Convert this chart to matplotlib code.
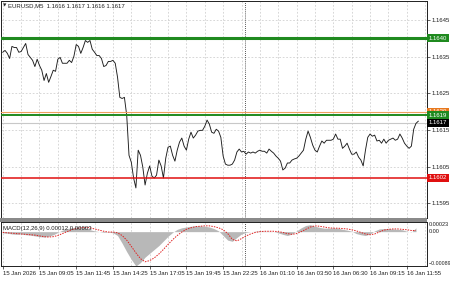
import matplotlib
matplotlib.use("Agg")
import matplotlib.pyplot as plt
import numpy as np
from matplotlib.transforms import blended_transform_factory
from matplotlib.patches import Rectangle

plt.rcParams['font.family'] = ['Liberation Sans', 'DejaVu Sans']

# ---------------- data ----------------
title_text = "EURUSD,M5  1.1616 1.1617 1.1616 1.1617"
macd_title = "MACD(12,26,9) 0.00012 0.00003"

# close price sampled every 2 M5 bars, starting 15 Jan 06:25
close = [
    1.16362, 1.16367, 1.16359, 1.16345, 1.16378, 1.16375, 1.16375, 1.16362, 1.16364, 1.16375,
    1.16386, 1.16356, 1.16348, 1.16340, 1.16323, 1.16343, 1.16326, 1.16313, 1.16285, 1.16304,
    1.16280, 1.16296, 1.16313, 1.16310, 1.16343, 1.16348, 1.16332, 1.16332, 1.16332, 1.16340,
    1.16334, 1.16351, 1.16383, 1.16378, 1.16359, 1.16375, 1.16394, 1.16389, 1.16394, 1.16370,
    1.16362, 1.16353, 1.16353, 1.16345, 1.16323, 1.16326, 1.16337, 1.16337, 1.16340, 1.16332,
    1.16294, 1.16239, 1.16236, 1.16239, 1.16190, 1.16081, 1.16062, 1.16019, 1.15992, 1.16095,
    1.16081, 1.16049, 1.16000, 1.16032, 1.16052, 1.16024, 1.16019, 1.16027, 1.16068, 1.16052,
    1.16019, 1.16073, 1.16103, 1.16106, 1.16081, 1.16065, 1.16095, 1.16117, 1.16128, 1.16106,
    1.16095, 1.16125, 1.16144, 1.16128, 1.16136, 1.16147, 1.16149, 1.16149, 1.16160, 1.16177,
    1.16166, 1.16144, 1.16141, 1.16152, 1.16147, 1.16130, 1.16079, 1.16057, 1.16054, 1.16054,
    1.16057, 1.16068, 1.16090, 1.16098, 1.16090, 1.16092, 1.16084, 1.16090, 1.16087, 1.16090,
    1.16087, 1.16092, 1.16095, 1.16092, 1.16092, 1.16087, 1.16098, 1.16092, 1.16087, 1.16079,
    1.16073, 1.16065, 1.16041, 1.16046, 1.16060, 1.16060, 1.16068, 1.16071, 1.16073, 1.16079,
    1.16087, 1.16095, 1.16125, 1.16147, 1.16130, 1.16109, 1.16095, 1.16090, 1.16106, 1.16120,
    1.16114, 1.16122, 1.16122, 1.16122, 1.16125, 1.16139, 1.16125, 1.16125, 1.16100, 1.16106,
    1.16114, 1.16098, 1.16084, 1.16084, 1.16090, 1.16076, 1.16068, 1.16052, 1.16095, 1.16130,
    1.16139, 1.16133, 1.16136, 1.16120, 1.16122, 1.16114, 1.16125, 1.16114, 1.16122, 1.16125,
    1.16128, 1.16122, 1.16125, 1.16139, 1.16128, 1.16114, 1.16106, 1.16100, 1.16106, 1.16152,
    1.16168, 1.16174,
]

# MACD main (histogram) and signal, every 4 M5 bars, in units of 1e-5
macd_main_e5 = [
    -3, -4, -6, -7, -6, -8, -9, -11, -13, -14,
    -12, -8, -2, 4, 8, 10, 12, 13, 10, 5,
    2, 0, -2, -1, -3, -10, -30, -52, -72, -89,
    -80, -66, -56, -46, -36, -24, -12, -2, 6, 10,
    12, 14, 15, 15, 14, 12, 8, 2, -10, -22,
    -25, -15, -6, -2, 0, 1, 2, 1, 1, 0,
    -3, -7, -10, -6, 2, 10, 16, 18, 14, 11,
    9, 9, 10, 9, 6, 4, 1, -5, -8, -10,
    -6, 2, 7, 8, 8, 7, 6, 5, 1, -1,
    10,
]
macd_signal_e5 = [
    -2, -3, -4, -5, -6, -7, -8, -9, -11, -13,
    -14, -13, -10, -5, 0, 5, 8, 10, 11, 10,
    7, 4, 1, -1, -1, -3, -10, -22, -38, -55,
    -70, -78, -75, -68, -58, -46, -33, -21, -10, -1,
    6, 10, 13, 14, 15, 15, 13, 10, 5, -5,
    -20, -24, -18, -11, -6, -2, 0, 1, 1, 1,
    0, -2, -5, -7, -5, 0, 6, 12, 15, 14,
    12, 10, 9, 9, 8, 7, 5, 2, -2, -6,
    -8, -6, -1, 4, 6, 7, 7, 6, 5, 3,
    3,
]

price_ticks = [1.1595, 1.1605, 1.1615, 1.1625, 1.1635, 1.1645]
level_prices = [1.1640, 1.1620, 1.1619, 1.1602]
level_labels = ["1.1640", "1.1620", "1.1619", "1.1602"]
bid_price = 1.1617
bid_label = "1.1617"

time_labels = ["15 Jan 2026", "15 Jan 09:05", "15 Jan 11:45", "15 Jan 14:25",
               "15 Jan 17:05", "15 Jan 19:45", "15 Jan 22:25", "16 Jan 01:10",
               "16 Jan 03:50", "16 Jan 06:30", "16 Jan 09:15", "16 Jan 11:55"]
label_every = 16      # in 2-bar steps (32 bars)
grid_every = 8        # 16 bars
day_separator = 105.65  # 16 Jan 00:00 in 2-bar steps

macd_top_label, macd_zero_label, macd_bottom_label = 0.00023, 0.0, -0.00089

# ---------------- styling ----------------
W, H = 450, 281
fig = plt.figure(figsize=(W / 100, H / 100), dpi=100)
fig.patch.set_facecolor('white')

ax_right = 427 / W
ax = fig.add_axes([0.0015, 1 - 218 / H, ax_right - 0.0015, 218 / H - 0.002])
ax2 = fig.add_axes([0.0015, 1 - 266 / H, ax_right - 0.0015, 44 / H])

x_close = np.arange(len(close))
x_macd = np.arange(len(macd_main_e5)) * 2
macd_main = np.array(macd_main_e5) * 1e-5
macd_signal = np.array(macd_signal_e5) * 1e-5

xlim = (-0.9, 184.8)
FS = 4.3
grid_kw = dict(color='#c8c8c8', lw=0.5, ls=(0, (2.5, 2.5)))

for a in (ax, ax2):
    a.set_xlim(*xlim)
    for s in a.spines.values():
        s.set_color('#202020')
        s.set_linewidth(0.7)
    for gx in np.arange(0, xlim[1], grid_every):
        a.axvline(gx, zorder=0, **grid_kw)
    a.axvline(day_separator, color='#202020', lw=0.6, ls=(0, (1.0, 1.5)), zorder=1)

# main panel
ax.set_ylim(1.15910, 1.16503)
for p in price_ticks:
    ax.axhline(p, zorder=0, **grid_kw)

ax.plot(x_close, close, color='#1c1c1c', lw=0.65, zorder=3)

level_colors = ['#1f8a1f', '#f0a060', '#1f8a1f', '#e01010']
level_widths = [2.2, 0.8, 1.4, 1.1]
box_colors = ['#1f8a1f', '#e8781e', '#1f8a1f', '#e01010']
for p, c, lw_ in zip(level_prices, level_colors, level_widths):
    ax.axhline(p, color=c, lw=lw_, zorder=4)
ax.axhline(bid_price, color='#c8c8c8', lw=0.8, zorder=2)

ax.yaxis.tick_right()
ax.set_yticks(price_ticks)
ax.set_yticklabels([f"{p:.4f}" for p in price_ticks], fontsize=FS, color='#202020')
ax.tick_params(axis='y', length=2, width=0.5, pad=1.2, colors='#202020')
ax.set_xticks([])

tr = blended_transform_factory(ax.transAxes, ax.transData)
for p, lab, bc in zip(level_prices + [bid_price], level_labels + [bid_label],
                      box_colors + ['#000000']):
    ax.text(1.004, p, lab, transform=tr, fontsize=FS, color='white', va='center', ha='left',
            zorder=10, clip_on=False,
            bbox=dict(boxstyle='square,pad=0.25', fc=bc, ec='none'))

ax.text(0.006, 0.978, "\u25BC", transform=ax.transAxes, fontsize=3.2, color='#202020',
        va='center', ha='left', family='DejaVu Sans')
ax.text(0.017, 0.978, title_text, transform=ax.transAxes, fontsize=FS, color='#202020',
        va='center', ha='left')

# MACD panel
ax2.set_ylim(-0.00089, 0.00025)
ax2.fill_between(x_macd, 0, macd_main, color='#b8b8b8', lw=0, zorder=2)
ax2.plot(x_macd, macd_signal, color='#e02020', lw=0.7, ls=(0, (1.5, 1.2)), zorder=3)
ax2.set_yticks([])
tr2 = blended_transform_factory(ax2.transAxes, ax2.transData)
ax2.text(1.005, macd_top_label - 0.00004, "0.00023", transform=tr2, fontsize=4.0,
         color='#202020', va='center', ha='left', clip_on=False)
ax2.text(1.005, macd_zero_label, "0.00", transform=tr2, fontsize=4.0,
         color='#202020', va='center', ha='left', clip_on=False)
ax2.text(1.003, macd_bottom_label + 0.00006, "\u2212" + "0.00089", transform=tr2,
         fontsize=3.8, color='#202020', va='center', ha='left', clip_on=False)
ax2.text(0.006, 0.86, macd_title, transform=ax2.transAxes, fontsize=FS, color='#202020',
         va='center', ha='left', zorder=5)

tick_pos = [i * label_every for i in range(len(time_labels))]
ax2.set_xticks(tick_pos)
ax2.set_xticklabels(time_labels, fontsize=FS, color='#202020')
for t in ax2.get_xticklabels():
    t.set_horizontalalignment('left')
ax2.tick_params(axis='x', length=2, width=0.5, pad=1.5, colors='#202020')

# window separator
fig.add_artist(Rectangle((0, 1 - 222 / H), ax_right, 4 / H, transform=fig.transFigure,
                         facecolor='#8a8a8a', edgecolor='none', zorder=5))

fig.savefig("out.png", dpi=100, facecolor='white')
